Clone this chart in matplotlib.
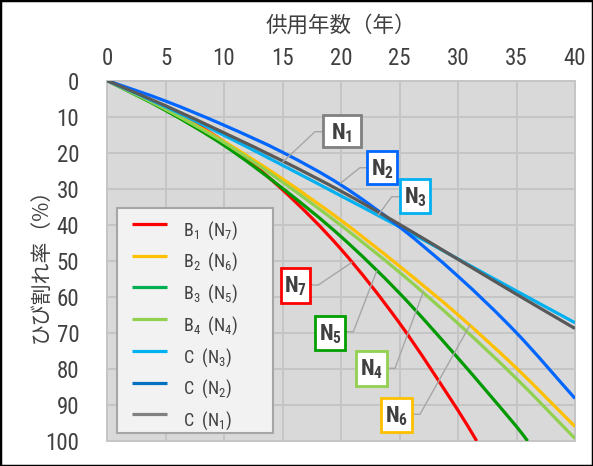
import matplotlib
matplotlib.use("Agg")
import matplotlib.pyplot as plt
from matplotlib import font_manager as fm
from matplotlib.patches import Rectangle, PathPatch
from matplotlib.path import Path

# ---------------- data ----------------
years = [0, 5, 10, 15, 20, 25, 30, 35, 40]
years_b1 = [0, 5, 10, 15, 20, 25, 30, 31.6]
years_b3 = [0, 5, 10, 15, 20, 25, 30, 35, 35.95]

b1_n7 = [0, 7.5, 17.0, 30.3, 46.8, 67.3, 91.5, 100]
b2_n6 = [0, 7.8, 16.9, 27.3, 38.8, 51.5, 65.0, 79.8, 96.0]
b3_n5 = [0, 8.3, 18.0, 29.9, 43.3, 59.0, 77.0, 96.0, 100]
b4_n4 = [0, 8.0, 17.2, 28.2, 40.2, 53.2, 67.4, 82.7, 99.3]
c_n3 = [0, 7.3, 15.2, 23.5, 32.0, 40.6, 49.5, 58.4, 67.2]
c_n2 = [0, 5.7, 12.4, 19.9, 29.0, 40.6, 54.3, 70.0, 88.2]
c_n1 = [0, 7.0, 14.5, 22.3, 30.7, 39.9, 49.6, 59.3, 68.8]

legend_labels = [r"B$_1$  (N$_7$)", r"B$_2$  (N$_6$)", r"B$_3$  (N$_5$)",
                 r"B$_4$  (N$_4$)", r"C  (N$_3$)", r"C  (N$_2$)", r"C  (N$_1$)"]
box_labels = [r"N$_1$", r"N$_2$", r"N$_3$", r"N$_7$", r"N$_5$", r"N$_4$", r"N$_6$"]
x_ticks = [0, 5, 10, 15, 20, 25, 30, 35, 40]
y_ticks = [0, 10, 20, 30, 40, 50, 60, 70, 80, 90, 100]
x_title = "供用年数（年）"
y_title = "ひび割れ率（%）"

# ---------------- fonts ----------------
names = {f.name for f in fm.fontManager.ttflist}
narrow = next((n for n in ["Liberation Sans Narrow", "Roboto Condensed",
                           "DejaVu Sans Condensed", "Liberation Sans"]
               if n in names), "DejaVu Sans")
FAM = [narrow, "Noto Sans CJK JP", "DejaVu Sans"]
CJK = ["Noto Sans CJK JP", "DejaVu Sans"]
plt.rcParams["font.family"] = FAM
plt.rcParams["mathtext.default"] = "regular"

TXT = "#404040"


def smooth_path(xs, ys):
    """Smoothed line (like a spreadsheet 'smoothed line'): cubic Hermite segments
    with finite-difference slopes, drawn as Bezier curves."""
    n = len(xs)
    m = []
    for i in range(n):
        if i == 0:
            m.append((ys[1] - ys[0]) / (xs[1] - xs[0]))
        elif i == n - 1:
            m.append((ys[-1] - ys[-2]) / (xs[-1] - xs[-2]))
        else:
            m.append((ys[i + 1] - ys[i - 1]) / (xs[i + 1] - xs[i - 1]))
    verts = [(xs[0], ys[0])]
    codes = [Path.MOVETO]
    for i in range(n - 1):
        h = xs[i + 1] - xs[i]
        verts += [(xs[i] + h / 3, ys[i] + m[i] * h / 3),
                  (xs[i + 1] - h / 3, ys[i + 1] - m[i + 1] * h / 3),
                  (xs[i + 1], ys[i + 1])]
        codes += [Path.CURVE4] * 3
    return Path(verts, codes)


# ---------------- figure ----------------
W, H = 593, 466
fig = plt.figure(figsize=(W / 100, H / 100), dpi=100)
L, R, T, B = 107, 575, 80.5, 441
ax = fig.add_axes([L / W, 1 - B / H, (R - L) / W, (B - T) / H])
ax.set_facecolor("#D9D9D9")

series = [
    (years_b1, b1_n7, "#FF0000"),
    (years, b2_n6, "#FFC000"),
    (years_b3, b3_n5, "#009A00"),
    (years, b4_n4, "#92D050"),
    (years, c_n3, "#00B0F0"),
    (years, c_n2, "#0066FF"),
    (years, c_n1, "#595959"),
]
for xs, ys, col in series:
    ax.add_patch(PathPatch(smooth_path(xs, ys), fill=False, ec=col, lw=2.3,
                           capstyle="butt", zorder=3))

ax.set_xlim(0, 40)
ax.set_ylim(100, 0)
ax.set_xticks(x_ticks)
ax.set_yticks(y_ticks)
ax.grid(True, color="#C5C5C5", lw=1.4, zorder=0)
ax.set_axisbelow(True)
for s in ax.spines.values():
    s.set_color("#C5C5C5")
    s.set_linewidth(1.4)

ax.tick_params(axis="x", top=True, labeltop=True, bottom=False, labelbottom=False,
               length=0, pad=7.5, labelsize=16.5, labelcolor=TXT)
ax.tick_params(axis="y", length=0, pad=20, labelsize=16.5, labelcolor=TXT)
ax.xaxis.set_label_position("top")
ax.set_xlabel(x_title, fontsize=15.5, color=TXT, labelpad=11, family=CJK)
ax.set_ylabel(y_title, fontsize=15, color=TXT, labelpad=-4.5, family=CJK)


# pixel helpers (axes fraction from reference pixel positions)
def fx(px):
    return (px - L) / (R - L)


def fy(py):
    return (B - py) / (B - T)


# ---------------- legend (drawn as a framed key) ----------------
leg_colors = ["#FF0000", "#FFC000", "#00B050", "#92D050", "#00B0F0", "#0070C0", "#808080"]
ax.add_patch(Rectangle((fx(117), fy(433)), fx(272.7) - fx(117), fy(208) - fy(433),
                       transform=ax.transAxes, fc="#F2F2F2", ec="#A6A6A6",
                       lw=1.5, zorder=7))
for i, (lab, col) in enumerate(zip(legend_labels, leg_colors)):
    row = 224 + i * 31.7
    ax.plot([fx(131.7), fx(167)], [fy(row), fy(row)], transform=ax.transAxes,
            color=col, lw=2.3, solid_capstyle="butt", zorder=8)
    ax.text(fx(183), fy(row + 11.5), lab, transform=ax.transAxes, ha="left",
            va="baseline", fontsize=13, color=TXT, zorder=8)

# ---------------- label boxes with leader lines ----------------
# box: left, top, width, height in reference pixels
boxes = [
    (box_labels[0], (323, 115, 38, 32), [(323, 131.7), (315, 131.7), (283, 161.7)], "#808080"),
    (box_labels[1], (367, 151, 30, 33), [(367, 167.7), (360, 167.7), (340.7, 183.0)], "#0066FF"),
    (box_labels[2], (400, 179, 30, 34), [(400, 196.7), (391.7, 196.7), (378.3, 215)], "#00B0F0"),
    (box_labels[3], (280.7, 268, 29.3, 34.7), [(310, 285), (318.3, 285), (351.7, 262.5)], "#FF0000"),
    (box_labels[4], (315, 315.7, 30, 34.3), [(345, 331.7), (353.3, 331.7), (376.7, 271.0)], "#00A000"),
    (box_labels[5], (356, 351, 30.7, 35), [(386.7, 368.3), (395, 368.3), (423.3, 291.7)], "#92D050"),
    (box_labels[6], (381, 397.7, 30.7, 34.6), [(411.7, 414.3), (420, 414.3), (470, 325)], "#FFC000"),
]
for lab, (bl, bt, bw, bh), path, ec in boxes:
    ax.plot([fx(p[0]) for p in path], [fy(p[1]) for p in path],
            transform=ax.transAxes, color="#A6A6A6", lw=1.0, zorder=4)
    ax.add_patch(Rectangle((fx(bl), fy(bt + bh)), fx(bl + bw) - fx(bl),
                           fy(bt) - fy(bt + bh), transform=ax.transAxes,
                           fc="white", ec=ec, lw=2, zorder=5))
    ax.text(fx(bl + bw / 2), fy(bt + 24.5), lab, transform=ax.transAxes,
            ha="center", va="baseline", fontsize=16, fontweight="bold",
            color=TXT, zorder=6)

# figure frame
fig.add_artist(Rectangle((0, 0), 1, 1, transform=fig.transFigure, fill=False,
                         ec="black", lw=2.5))

fig.savefig("out.png", dpi=100)
